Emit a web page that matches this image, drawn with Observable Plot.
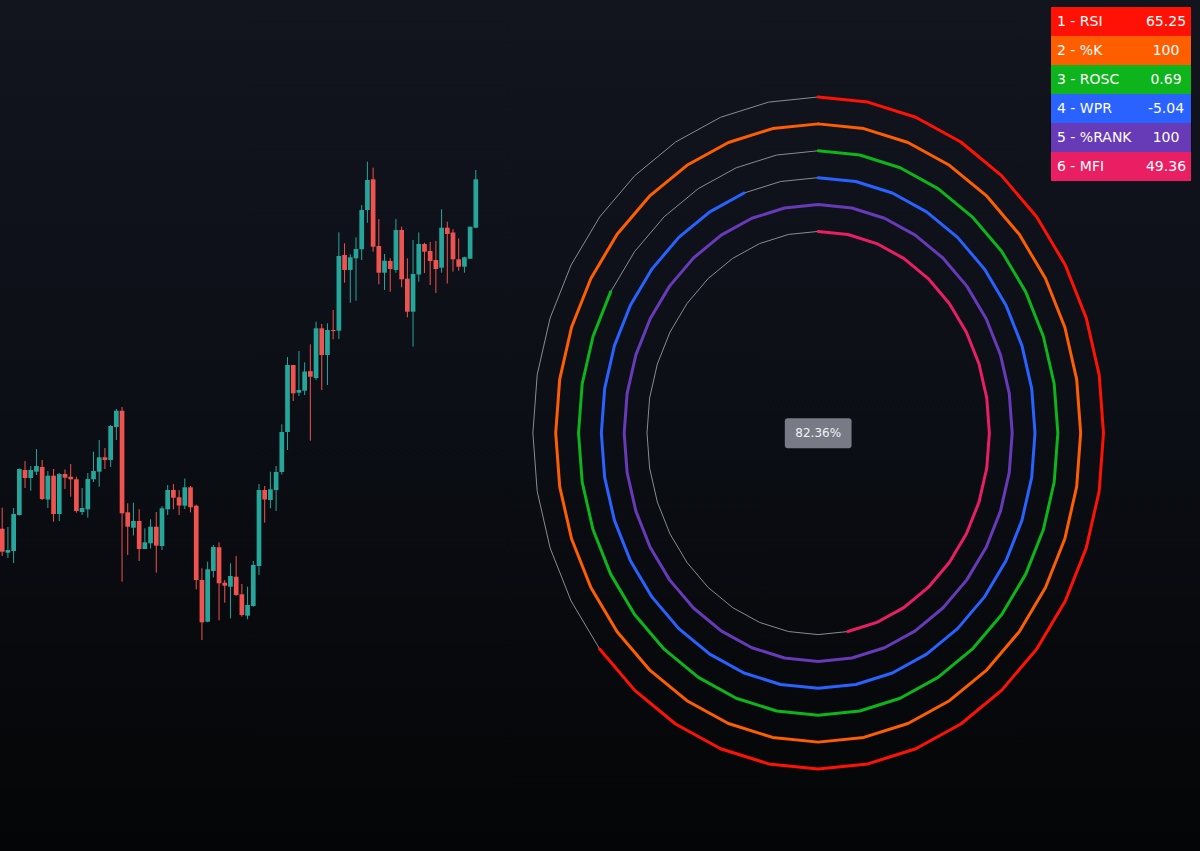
<!DOCTYPE html>
<html>
<head>
<meta charset="utf-8">
<script src="https://cdn.jsdelivr.net/npm/d3@7"></script>
<script src="https://cdn.jsdelivr.net/npm/@observablehq/plot@0.6"></script>
<style>
html, body { margin: 0; padding: 0; }
body {
  width: 1200px; height: 851px; overflow: hidden;
  background: linear-gradient(to bottom, #12151e 0%, #0c0f16 45%, #040506 100%);
}
#wrap { position: relative; width: 1200px; height: 851px; }
#chart svg { display: block; }
#legend {
  position: absolute; left: 1051px; top: 7px;
  border-collapse: collapse;
  font-family: "DejaVu Sans", sans-serif; font-size: 14px; color: #ffffff;
  outline: 1px solid #0b0d12;
}
#legend td { height: 29px; padding: 0; line-height: 29px; white-space: nowrap; }
#legend td.name { width: 84px; padding-left: 6px; text-align: left; }
#legend td.val { width: 50px; text-align: center; }
</style>
</head>
<body>
<div id="wrap">
  <div id="chart"></div>
  <table id="legend"></table>
</div>
<script>
// ---------------- Candlestick data ----------------
const candleOpen  = [97.13,94.73,94.90,98.50,103.00,102.20,102.83,103.30,100.05,102.43,98.60,102.60,102.33,102.07,98.80,99.07,102.07,102.83,104.27,104.00,107.30,108.93,98.77,97.23,97.90,95.10,95.67,97.33,95.40,99.07,101.00,100.27,99.43,101.27,99.43,92.00,87.83,92.90,95.28,91.73,91.33,92.33,90.57,88.43,89.40,93.40,101.00,100.00,101.00,102.80,106.80,113.50,110.73,110.93,112.88,112.20,117.17,114.50,117.00,116.93,124.50,123.00,124.17,125.07,129.00,132.07,125.40,122.73,123.90,123.00,127.00,122.13,118.83,122.55,125.60,124.90,124.00,123.23,127.23,126.75,124.07,123.33,124.13,127.23];
const candleHigh  = [99.23,97.30,99.20,103.15,103.90,103.40,105.10,104.00,102.90,103.10,102.70,103.05,103.60,102.33,101.20,102.70,104.83,106.00,105.20,107.50,109.10,109.30,99.67,99.73,99.07,97.17,98.07,98.80,99.40,101.50,101.60,101.00,102.15,101.40,99.53,93.17,93.83,95.50,95.77,92.00,93.67,94.40,91.60,91.33,93.90,101.60,101.40,102.83,103.40,107.57,114.30,113.50,114.90,113.77,115.57,117.83,117.60,117.67,119.00,126.77,125.67,124.57,126.27,129.50,133.83,133.23,128.10,124.60,124.17,128.10,127.33,124.17,126.00,126.75,125.73,125.80,125.90,129.07,127.83,127.07,126.17,124.33,127.33,133.00];
const candleLow   = [94.40,94.20,93.70,98.45,101.20,100.93,102.50,100.00,99.20,97.83,97.90,101.10,100.33,98.73,98.50,98.23,101.80,101.33,103.10,103.30,106.00,91.83,94.50,96.45,93.90,95.10,95.15,92.73,95.00,98.50,99.07,98.50,99.10,98.77,91.07,86.00,87.77,92.25,87.97,89.73,88.17,90.43,88.33,88.07,89.33,92.50,97.73,99.17,98.90,102.55,105.00,109.90,110.40,110.50,105.93,112.00,111.00,111.50,116.07,116.10,121.73,119.73,119.93,124.00,127.73,124.83,121.57,121.00,120.83,122.73,121.27,118.27,115.35,121.83,122.70,121.50,120.70,122.73,121.65,122.83,122.93,122.73,124.10,127.17];
const candleClose = [94.83,95.00,98.60,103.10,102.20,103.00,103.40,100.10,102.43,98.60,102.60,102.23,102.07,98.90,99.20,102.10,102.90,104.27,104.00,107.40,108.93,98.67,97.33,97.90,95.10,95.77,97.33,95.43,99.17,101.00,100.23,99.45,101.27,99.27,92.00,87.77,93.07,95.30,91.67,91.43,92.40,90.50,88.50,89.50,93.50,101.00,100.05,101.07,102.80,106.80,113.50,110.67,111.00,112.85,112.33,117.17,114.50,117.00,116.90,124.40,123.00,124.27,125.10,129.00,132.00,125.33,122.73,123.93,123.10,127.00,122.07,118.83,122.60,125.60,124.83,123.90,123.10,127.23,126.60,124.07,123.33,124.27,127.33,132.07];

// ---------------- Oscillator data (legend table) ----------------
const indicatorNames  = ["RSI", "%K", "ROSC", "WPR", "%RANK", "MFI"];
const indicatorValues = [65.25, 100, 0.69, -5.04, 100, 49.36];
const indicatorText   = ["65.25", "100", "0.69", "-5.04", "100", "49.36"];
const indicatorMin    = [0, 0, -1, -100, 0, 0];
const indicatorMax    = [100, 100, 1, 0, 100, 100];
const compositeScore  = 82.36;

// ---------------- Styling / layout ----------------
const indicatorColors = ["#ff1205", "#ff5e00", "#0db41b", "#2962ff", "#673ab7", "#e91e63"];
const upColor = "#26a69a", downColor = "#ef5350", trackColor = "#9598a1";
const ringOffsetBars = 60;      // ring center, bars after last candle
const outerRadiusBars = 50;     // outer ring radius, in bars
const ringStepBars = 4;         // gap between rings, in bars
const ringCenterPrice = 106.75; // vertical center of rings
const pricePerBar = 0.672;      // vertical stretch of the rings
const segments = 36;

const candles = candleOpen.map((o, i) => ({
  i, open: o, high: candleHigh[i], low: candleLow[i], close: candleClose[i],
  color: candleClose[i] >= o ? upColor : downColor
}));

const cx = candles.length - 1 + ringOffsetBars;
const track = [], filled = [];
indicatorNames.forEach((name, k) => {
  const r = outerRadiusBars - k * ringStepBars;
  const ry = r * pricePerBar;
  const pct = (indicatorValues[k] - indicatorMin[k]) / (indicatorMax[k] - indicatorMin[k]);
  const n = Math.max(0, Math.min(segments, Math.floor(pct * segments)));
  const pt = j => {
    const a = (j / segments) * 2 * Math.PI;
    return { x: cx + r * Math.sin(a), y: ringCenterPrice + ry * Math.cos(a) };
  };
  for (let j = 0; j <= n; j++) filled.push({ ...pt(j), key: name, color: indicatorColors[k] });
  if (n < segments) for (let j = n; j <= segments; j++) track.push({ ...pt(j), key: name });
});

const chart = Plot.plot({
  width: 1200, height: 851, margin: 0,
  x: { domain: [-0.3, 210], axis: null },
  y: { domain: [64.9, 150], axis: null },
  color: { type: "identity" },
  style: { background: "transparent", overflow: "visible" },
  marks: [
    Plot.ruleX(candles, { x: "i", y1: "low", y2: "high", stroke: "color", strokeWidth: 1 }),
    Plot.ruleX(candles, { x: "i", y1: "open",
      y2: d => Math.abs(d.close - d.open) < 0.1 ? d.open - 0.1 : d.close,
      stroke: "color", strokeWidth: 4.7 }),
    Plot.line(track, { x: "x", y: "y", z: "key", stroke: trackColor, strokeWidth: 1, strokeOpacity: 0.9 }),
    Plot.line(filled, { x: "x", y: "y", z: "key", stroke: "color", strokeWidth: 3, strokeLinejoin: "round" }),
    Plot.text([{ x: cx, y: ringCenterPrice }], {
      x: "x", y: "y", text: () => compositeScore.toFixed(2) + "%",
      fill: "#f0f2f7", fontSize: 12, fontFamily: "DejaVu Sans", className: "center-label"
    })
  ]
});
document.getElementById("chart").appendChild(chart);

// label box behind the center score (same local transform as the text)
const t = chart.querySelector(".center-label text");
if (t) {
  const bb = t.getBBox();
  const rect = document.createElementNS("http://www.w3.org/2000/svg", "rect");
  const padX = 10.5, padY = 8;
  rect.setAttribute("x", bb.x - padX);
  rect.setAttribute("y", bb.y - padY + 0.5);
  rect.setAttribute("width", bb.width + 2 * padX);
  rect.setAttribute("height", bb.height + 2 * padY);
  rect.setAttribute("rx", 3);
  rect.setAttribute("fill", "#787b86");
  const tr = t.getAttribute("transform");
  if (tr) rect.setAttribute("transform", tr);
  t.parentNode.insertBefore(rect, t);
}

// legend table
const table = document.getElementById("legend");
indicatorNames.forEach((name, k) => {
  const tr = document.createElement("tr");
  tr.style.background = indicatorColors[k];
  const a = document.createElement("td");
  a.className = "name"; a.textContent = (k + 1) + " - " + name;
  const b = document.createElement("td");
  b.className = "val"; b.textContent = indicatorText[k];
  tr.appendChild(a); tr.appendChild(b);
  table.appendChild(tr);
});
</script>
</body>
</html>
